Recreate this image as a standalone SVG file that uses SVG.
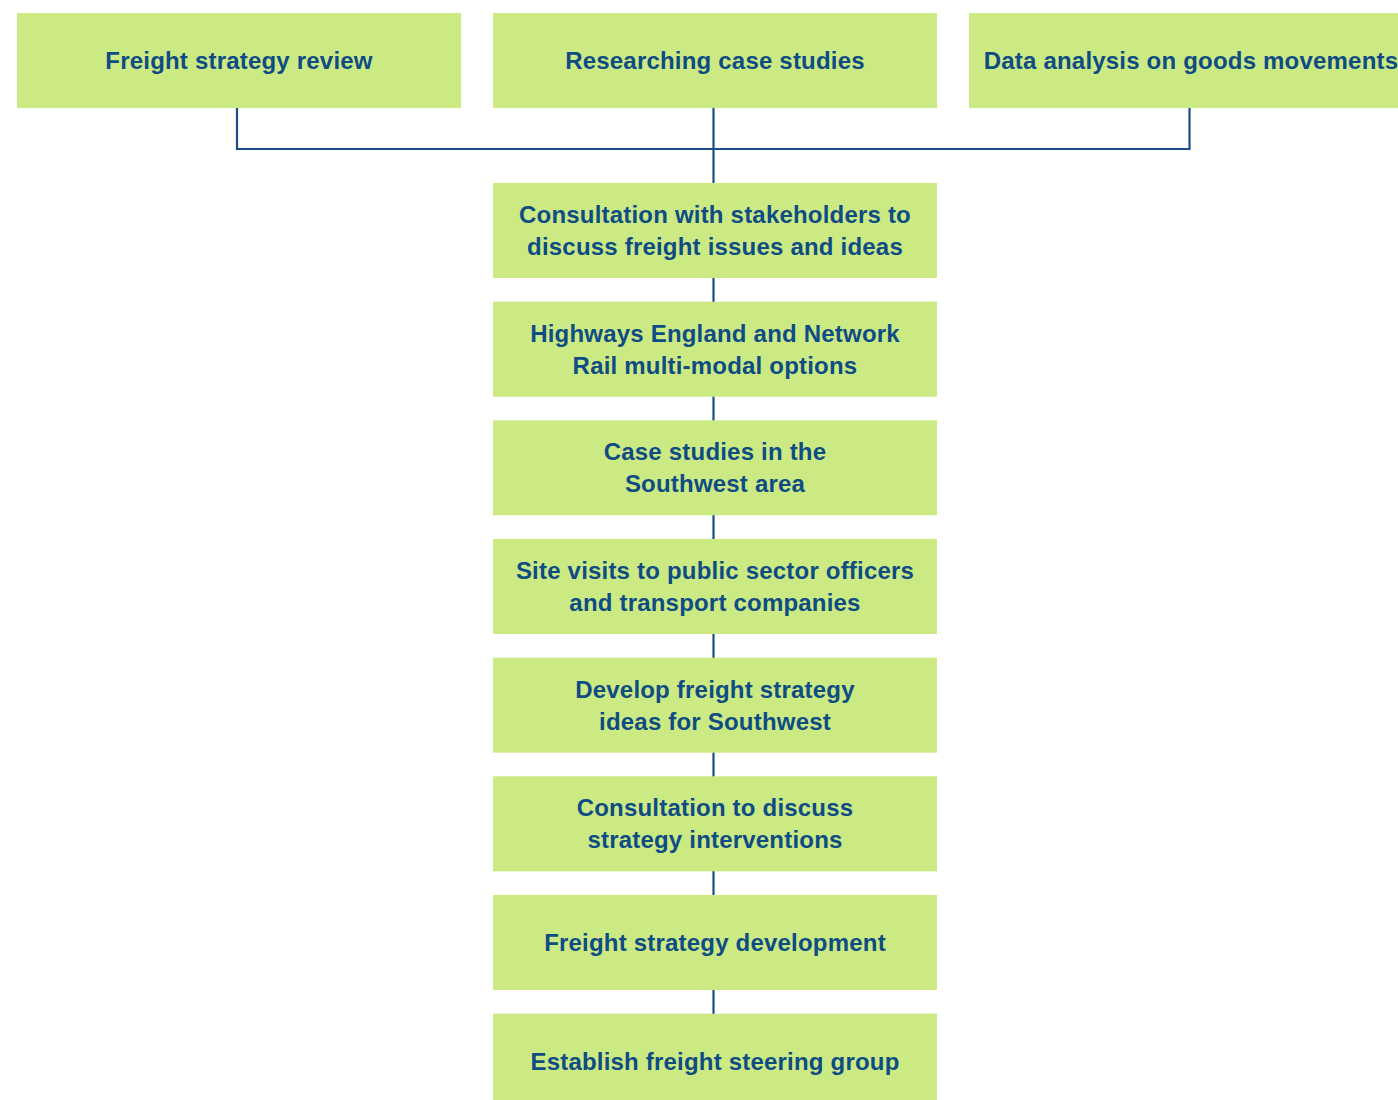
<svg xmlns="http://www.w3.org/2000/svg" width="1398" height="1100" viewBox="0 0 1398 1100">
  <style>
    .box { fill: #cbea83; }
    .lbl { font-family: "Liberation Sans", Arial, sans-serif; font-weight: bold; font-size: 24px; letter-spacing: 0.2px; fill: #0f4c84; text-anchor: middle; }
    .wire { fill: none; stroke: #1b4e88; stroke-width: 2.2; }
  </style>
  <rect width="1398" height="1100" fill="#ffffff"/>

  <!-- connectors -->
  <g id="connectors">
    <path class="wire" d="M237,108 V149 H1189.5 V108"/>
    <path class="wire" d="M713.5,108 V1014"/>
  </g>

  <!-- top row -->
  <g id="freight-review">
    <rect class="box" x="17" y="13" width="444" height="95"/>
    <text class="lbl" x="239" y="69">Freight strategy review</text>
  </g>
  <g id="case-studies-research">
    <rect class="box" x="493" y="13" width="444" height="95"/>
    <text class="lbl" x="715" y="69">Researching case studies</text>
  </g>
  <g id="data-analysis">
    <rect class="box" x="969" y="13" width="444" height="95"/>
    <text class="lbl" x="1191" y="69">Data analysis on goods movements</text>
  </g>

  <!-- main sequence -->
  <g id="stakeholder-consultation">
    <rect class="box" x="493" y="183" width="444" height="95"/>
    <text class="lbl" x="715" y="223">Consultation with stakeholders to</text>
    <text class="lbl" x="715" y="255">discuss freight issues and ideas</text>
  </g>
  <g id="multi-modal-options">
    <rect class="box" x="493" y="301.7" width="444" height="95"/>
    <text class="lbl" x="715" y="341.7">Highways England and Network</text>
    <text class="lbl" x="715" y="373.7">Rail multi-modal options</text>
  </g>
  <g id="southwest-case-studies">
    <rect class="box" x="493" y="420.3" width="444" height="95"/>
    <text class="lbl" x="715" y="460.3">Case studies in the</text>
    <text class="lbl" x="715" y="492.3">Southwest area</text>
  </g>
  <g id="site-visits">
    <rect class="box" x="493" y="539" width="444" height="95"/>
    <text class="lbl" x="715" y="579">Site visits to public sector officers</text>
    <text class="lbl" x="715" y="611">and transport companies</text>
  </g>
  <g id="develop-ideas">
    <rect class="box" x="493" y="657.7" width="444" height="95"/>
    <text class="lbl" x="715" y="697.7">Develop freight strategy</text>
    <text class="lbl" x="715" y="729.7">ideas for Southwest</text>
  </g>
  <g id="intervention-consultation">
    <rect class="box" x="493" y="776.3" width="444" height="95"/>
    <text class="lbl" x="715" y="816.3">Consultation to discuss</text>
    <text class="lbl" x="715" y="848.3">strategy interventions</text>
  </g>
  <g id="strategy-development">
    <rect class="box" x="493" y="895" width="444" height="95"/>
    <text class="lbl" x="715" y="951">Freight strategy development</text>
  </g>
  <g id="steering-group">
    <rect class="box" x="493" y="1013.7" width="444" height="95"/>
    <text class="lbl" x="715" y="1070">Establish freight steering group</text>
  </g>
</svg>
